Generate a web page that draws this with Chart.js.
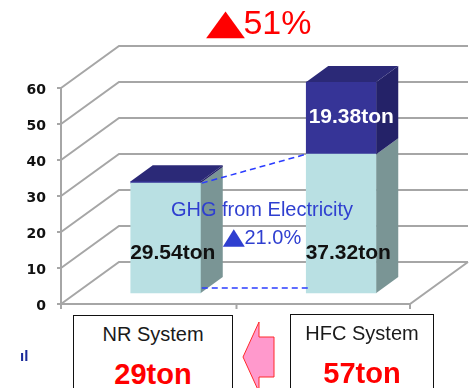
<!DOCTYPE html>
<html>
<head>
<meta charset="utf-8">
<script src="https://cdn.jsdelivr.net/npm/chart.js@4.4.1/dist/chart.umd.min.js"></script>
<style>
  html, body { margin: 0; padding: 0; background: #fff; }
  #wrap { position: relative; width: 470px; height: 388px; overflow: hidden; font-family: "Liberation Sans", Arial, sans-serif; }
  #chart { position: absolute; left: 0; top: 0; }
  .txt { position: absolute; text-align: center; white-space: nowrap; }
  .title { left: 0; width: 518px; top: 2px; font-size: 34px; line-height: 40px; color: #ff0000; }
  .tri { display: inline-block; font-family: "DejaVu Sans", sans-serif; }
  .title .tri { font-size: 35px; transform: scaleX(1.45); margin: 0 5px 0 5px; }
  .note { left: 112px; width: 300px; font-size: 20px; line-height: 20px; color: #2f3fd0; }
  .note .tri { font-size: 23px; transform: scaleX(1.25); margin: 0 2px 0 2px; }
  .box { position: absolute; box-sizing: border-box; border: 1.5px solid #111; background: #fff; }
  .sys { font-size: 20px; line-height: 20px; color: #1a1a1a; }
  .ton { font-size: 29px; line-height: 29px; font-weight: bold; color: #ff0000; }
  .stray { left: 20px; top: 348px; font-size: 15px; line-height: 15px; color: #1a2a9a; font-weight: bold; }
</style>
</head>
<body>
<div id="wrap">
  <canvas id="chart" width="470" height="388"></canvas>
  <div class="txt title"><span class="tri">▲</span>51%</div>
  <div class="txt note" style="top:199px">GHG from Electricity</div>
  <div class="txt note" style="top:226px"><span class="tri">▲</span>21.0%</div>

  <div class="box" style="left:73px; top:315px; width:160px; height:100px"></div>
  <div class="box" style="left:290px; top:314px; width:144px; height:100px"></div>
  <div class="txt sys" style="left:73px; width:160px; top:324px">NR System</div>
  <div class="txt ton" style="left:73px; width:160px; top:360px">29ton</div>
  <div class="txt sys" style="left:290px; width:144px; top:323px">HFC System</div>
  <div class="txt ton" style="left:290px; width:144px; top:359px">57ton</div>

  <svg style="position:absolute; left:0; top:0" width="470" height="388">
    <polygon points="243,357 259,322 259,337 274,337 274,377 259,377 259,392"
             fill="#ff99cc" stroke="#ff2a2a" stroke-width="1"/>
  </svg>
  <div class="txt stray">ıl</div>
</div>

<script>
const categories = ['NR System', 'HFC System'];
const electricity = [29.54, 37.32];
const refrigerant = [0.5, 19.38];
const yTicks = [0, 10, 20, 30, 40, 50, 60];

// 3D look: wall depth, bar depth, front plane shift
const WALL_DX = 58, WALL_DY = -42;
const BAR_DX = 22, BAR_DY = -16;
const FRONT_SHIFT = 17;

const faceColors = [
  { side: '#7a9595', top: '#9fc4c6' },
  { side: '#242268', top: '#2b2977' }
];

const box3d = {
  id: 'box3d',
  beforeDatasetsDraw(chart) {
    const ctx = chart.ctx;
    const f = chart.scales.yFront;
    const area = chart.chartArea;
    const x0 = area.left - FRONT_SHIFT;
    const x1 = area.right - FRONT_SHIFT - 2;
    ctx.save();
    ctx.strokeStyle = '#a6a6a6';
    ctx.lineWidth = 2;
    yTicks.forEach(v => {
      const y = f.getPixelForValue(v);
      ctx.beginPath();
      ctx.moveTo(x0, y);
      ctx.lineTo(x0 + WALL_DX, y + WALL_DY);
      ctx.lineTo(x1 + WALL_DX, y + WALL_DY);
      ctx.stroke();
      // small tick on the front edge
      ctx.beginPath();
      ctx.moveTo(x0 - 4, y);
      ctx.lineTo(x0, y);
      ctx.stroke();
    });
    const yb = f.getPixelForValue(0);
    const yt = f.getPixelForValue(60);
    ctx.beginPath();
    ctx.moveTo(x0, yt);
    ctx.lineTo(x0, yb);
    ctx.lineTo(x1, yb);
    ctx.lineTo(x1 + WALL_DX, yb + WALL_DY);
    ctx.stroke();
    // category ticks on the floor edge
    const xs = chart.scales.x;
    const mid = (xs.getPixelForTick(0) + xs.getPixelForTick(1)) / 2 - FRONT_SHIFT;
    [x0, mid, x1].forEach(x => {
      ctx.beginPath();
      ctx.moveTo(x, yb);
      ctx.lineTo(x, yb + 5);
      ctx.stroke();
    });
    ctx.restore();
  },
  afterDatasetsDraw(chart) {
    const ctx = chart.ctx;
    const metas = [chart.getDatasetMeta(0), chart.getDatasetMeta(1)];
    ctx.save();
    // side faces
    metas.forEach((meta, d) => {
      meta.data.forEach(el => {
        const r = el.x + el.width / 2;
        ctx.fillStyle = faceColors[d].side;
        ctx.beginPath();
        ctx.moveTo(r, el.y);
        ctx.lineTo(r + BAR_DX, el.y + BAR_DY);
        ctx.lineTo(r + BAR_DX, el.base + BAR_DY);
        ctx.lineTo(r, el.base);
        ctx.closePath();
        ctx.fill();
      });
    });
    // top faces of the stacks
    metas[1].data.forEach(el => {
      const l = el.x - el.width / 2, r = el.x + el.width / 2;
      ctx.fillStyle = faceColors[1].top;
      ctx.beginPath();
      ctx.moveTo(l, el.y);
      ctx.lineTo(l + BAR_DX, el.y + BAR_DY);
      ctx.lineTo(r + BAR_DX, el.y + BAR_DY);
      ctx.lineTo(r, el.y);
      ctx.closePath();
      ctx.fill();
    });

    // dashed guide lines between the electricity parts
    const a = metas[0].data[0], b = metas[0].data[1];
    ctx.strokeStyle = '#2a3cff';
    ctx.lineWidth = 1.5;
    ctx.setLineDash([6, 4]);
    ctx.beginPath();
    ctx.moveTo(a.x + a.width / 2 + 1, a.y);
    ctx.lineTo(b.x - b.width / 2, b.y);
    ctx.moveTo(a.x + a.width / 2 + 1, a.base - 5);
    ctx.lineTo(b.x - b.width / 2 + 2, b.base - 5);
    ctx.stroke();
    ctx.setLineDash([]);

    // value labels
    ctx.font = 'bold 21px "Liberation Sans", Arial, sans-serif';
    ctx.textAlign = 'center';
    ctx.textBaseline = 'alphabetic';
    metas[0].data.forEach((el, i) => {
      ctx.fillStyle = '#111';
      ctx.fillText(electricity[i].toFixed(2) + 'ton', el.x + 7, el.base - 34);
    });
    metas[1].data.forEach((el, i) => {
      if (refrigerant[i] < 1) return;
      ctx.fillStyle = '#fff';
      ctx.fillText(refrigerant[i].toFixed(2) + 'ton', el.x + 10, (el.y + el.base) / 2 + 5);
    });
    ctx.restore();
  }
};

new Chart(document.getElementById('chart'), {
  type: 'bar',
  data: {
    labels: categories,
    datasets: [
      { label: 'Electricity', data: electricity, backgroundColor: '#b9e0e3', barThickness: 70, yAxisID: 'y' },
      { label: 'Refrigerant', data: refrigerant, backgroundColor: '#363497', barThickness: 70, yAxisID: 'y' }
    ]
  },
  options: {
    responsive: false,
    animation: false,
    layout: { padding: { left: 0, right: 41, top: 56, bottom: 84 } },
    plugins: { legend: { display: false }, tooltip: { enabled: false } },
    scales: {
      x: { stacked: true, display: false },
      y: { stacked: true, display: false, min: -2.957, max: 63.71 },
      yFront: {
        position: 'left',
        min: 0,
        max: 68.89,
        grid: { display: false, drawTicks: false },
        border: { display: false },
        ticks: {
          stepSize: 10,
          includeBounds: false,
          padding: 32,
          labelOffset: 2,
          color: '#111',
          font: { family: 'DejaVu Sans', size: 14, weight: 'bold' },
          callback: v => yTicks.includes(v) ? v : ''
        },
        afterFit: s => { s.width = 78; }
      }
    }
  },
  plugins: [box3d]
});
</script>
</body>
</html>
